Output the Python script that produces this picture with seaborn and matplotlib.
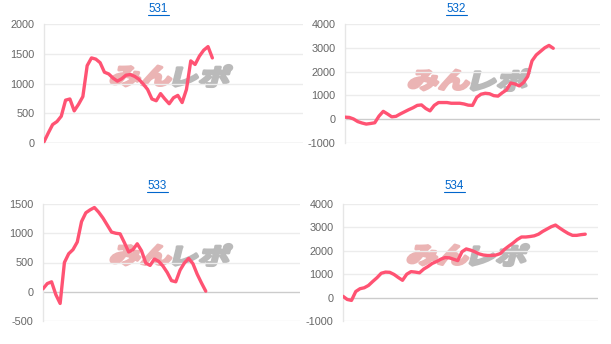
import matplotlib
matplotlib.use("Agg")
import matplotlib.pyplot as plt
from matplotlib.textpath import TextPath
from matplotlib.font_manager import FontProperties
from matplotlib.patches import PathPatch
from matplotlib.transforms import Affine2D, IdentityTransform
import seaborn as sns
import pandas as pd
import numpy as np

sns.set_style("white")
plt.rcParams['font.family'] = ['Liberation Sans', 'Noto Sans CJK JP', 'DejaVu Sans']

titles = ["531", "532", "533", "534"]
total_slots = 60

v531 = [20, 170, 310, 360, 450, 720, 740, 540, 650, 780, 1300, 1430, 1410, 1350, 1190,
        1160, 1090, 1040, 1080, 1140, 1150, 1120, 1070, 990, 900, 740, 710, 830, 740, 660,
        760, 800, 680, 900, 1380, 1320, 1460, 1560, 1620, 1430]
v532 = [85, 75, 10, -100, -160, -205, -180, -150, 130, 330, 220, 100, 120, 220, 310,
        400, 480, 580, 600, 450, 350, 580, 700, 700, 700, 670, 670, 670, 640, 590,
        580, 920, 1050, 1090, 1070, 990, 970, 1110, 1230, 1520, 1480, 1400, 1540, 1800,
        2450, 2700, 2850, 3000, 3100, 2980]
v533 = [50, 140, 170, -50, -200, 500, 650, 720, 850, 1200, 1350, 1400, 1440, 1360, 1260,
        1140, 1020, 1000, 990, 840, 680, 720, 820, 700, 490, 450, 560, 520, 440, 330,
        190, 170, 370, 490, 570, 480, 300, 150, 10]
v534 = [55, -80, -120, 260, 380, 420, 520, 690, 850, 1040, 1090, 1080, 990, 860, 740,
        1000, 1110, 1090, 1060, 1220, 1330, 1460, 1540, 1640, 1710, 1700, 1640, 1580, 1960,
        2080, 2030, 1960, 1870, 1820, 1800, 1800, 1820, 1880, 2060, 2200, 2330, 2480, 2590,
        2590, 2610, 2640, 2710, 2830, 2930, 3030, 3100, 2970, 2850, 2740, 2660, 2660, 2690, 2710]
series = [v531, v532, v533, v534]

ylims = [(0, 2000), (-1000, 4000), (-500, 1500), (-1000, 4000)]
yticks = [[0, 500, 1000, 1500, 2000],
          [-1000, 0, 1000, 2000, 3000, 4000],
          [-500, 0, 500, 1000, 1500],
          [-1000, 0, 1000, 2000, 3000, 4000]]

W, H = 611, 344
fig = plt.figure(figsize=(W / 100, H / 100), dpi=100)

# axes boxes in pixels: left, right, top, bottom
boxes = [(44, 303, 24, 143), (345, 600, 24, 143), (43, 300, 204, 321), (343, 598, 204, 321)]
title_pos = [(158, 9), (456, 9), (157, 186), (454, 186)]
wm_pos = [(172, 76), (470, 80), (172, 255), (469, 255)]

line_color = "#ff5373"
pink_wm = "#ebb4b4"
gray_wm = "#bababa"
wm_font = FontProperties(family="Noto Sans CJK JP", weight="bold")


def watermark(text, x, y, color, align):
    tp = TextPath((0, 0), text, size=24, prop=wm_font)
    path = Affine2D().scale(1.3, 0.95).skew_deg(14, 0).transform_path(tp)
    ext = path.get_extents()
    dx = (x - ext.x1 - 1) if align == "right" else (x - ext.x0 + 1)
    dy = (H - y) - (ext.y0 + ext.y1) / 2
    path = Affine2D().translate(dx, dy).transform_path(path)
    patch = PathPatch(path, transform=IdentityTransform(), facecolor=color,
                      edgecolor=color, linewidth=2.2, joinstyle="round", zorder=-1)
    fig.add_artist(patch)


for i in range(4):
    l, r, t, b = boxes[i]
    ax = fig.add_axes([l / W, 1 - b / H, (r - l) / W, (b - t) / H])
    df = pd.DataFrame({"x": np.arange(len(series[i])), "y": series[i]})

    wx, wy = wm_pos[i]
    watermark("みん", wx, wy, pink_wm, "right")
    watermark("レポ", wx, wy, gray_wm, "left")
    ax.patch.set_alpha(0)

    sns.lineplot(data=df, x="x", y="y", ax=ax, color=line_color, linewidth=2.4, zorder=5)

    ax.set_xlim(0, total_slots)
    ax.set_ylim(*ylims[i])
    ax.set_yticks(yticks[i])
    ax.set_yticklabels([str(v) for v in yticks[i]])
    ax.set_xticks([])
    ax.set_xlabel("")
    ax.set_ylabel("")
    for yv in yticks[i]:
        ax.axhline(yv, color="#cccccc" if yv == 0 else "#ececec", linewidth=1.0, zorder=1)
    for s in ["top", "right", "bottom"]:
        ax.spines[s].set_visible(False)
    ax.spines["left"].set_color("#e6e6e6")
    ax.spines["left"].set_linewidth(1.0)
    ax.tick_params(axis="y", length=0, pad=7, labelsize=7.8, labelcolor="#666666")

    tx, ty = title_pos[i]
    fig.text(tx / W, 1 - ty / H, titles[i], ha="center", va="center", fontsize=8.4,
             color="#0066cc")
    fig.add_artist(plt.Line2D([(tx - 10.5) / W, (tx + 10.5) / W], [1 - (ty + 6) / H, 1 - (ty + 6) / H],
                              color="#0066cc", linewidth=0.8))

fig.savefig("out.png", dpi=100)
